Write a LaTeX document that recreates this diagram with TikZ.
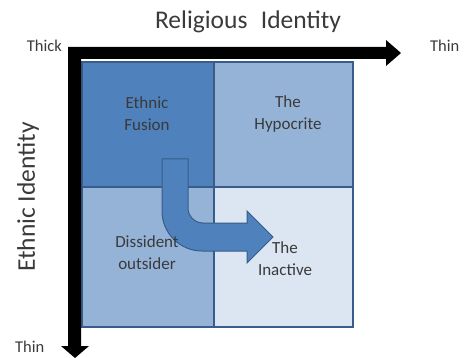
\documentclass[tikz,border=0pt]{standalone}
\usepackage{fontspec}
\setmainfont{Carlito}
\definecolor{cdark}{HTML}{4F81BD}
\definecolor{cmid}{HTML}{95B3D7}
\definecolor{clight}{HTML}{DCE6F2}
\definecolor{cline}{HTML}{385D8A}
\definecolor{ctext}{HTML}{3A3A3A}
\tikzset{
  cell/.style={draw=cline, line width=1.6pt},
  celltext/.style={text=ctext, align=center, font=\fontsize{17}{22}\selectfont, inner sep=0pt},
  axislabel/.style={text=ctext, font=\fontsize{16.5}{18}\selectfont, inner sep=0pt},
  title/.style={text=ctext, font=\fontsize{25.5}{28}\selectfont, inner sep=0pt},
  axisarrow/.style={fill=black, draw=none},
  bentarrow/.style={fill=cdark, draw=cline, line width=1pt, line join=miter}
}
\begin{document}
\begin{tikzpicture}[x=1pt,y=-1pt]
\useasboundingbox (0,0) rectangle (465,358);
% cells
\filldraw[cell, fill=cdark]  (82,62)  rectangle (214,187);
\filldraw[cell, fill=cmid]   (214,62) rectangle (353,187);
\filldraw[cell, fill=cmid]   (82,187) rectangle (214,327);
\filldraw[cell, fill=clight] (214,187) rectangle (353,327);
% axes
\coordinate (o) at (68,47);
\coordinate (xe) at (401,53);
\coordinate (ye) at (75,358);
\fill[axisarrow] (o) -- (386,47) -- (386,40) -- (xe) -- (386,66) -- (386,59) -- (81,59) -- (81,346) -- (89,346) -- (ye) -- (61,346) -- (68,346) -- cycle;
% bent arrow
\filldraw[bentarrow] (162,159) -- (188,159) -- (188,208)
  .. controls (188,216.3) and (194.7,223) .. (203,223)
  -- (247,223) -- (247,211) -- (273,237) -- (247,263) -- (247,251)
  -- (202,251) .. controls (179.9,251) and (162,233.1) .. (162,211) -- cycle;
% texts
\node[celltext] (ef) at (147,114) {Ethnic\\Fusion};
\node[celltext] (hy) at (288,114) {The\\Hypocrite};
\node[celltext] (ds) at (147,253) {Dissident\\outsider};
\node[celltext] (in) at (285,259) {The\\Inactive};
\node[title] (rt) at (248,22) {Religious\hspace{0.3em} Identity};
\node[title, rotate=90] (et) at (28,197) {Ethnic Identity};
\node[axislabel, anchor=east] (thick) at (62,46) {Thick};
\node[axislabel, anchor=west] (thinx) at (430,46) {Thin};
\node[axislabel, anchor=west] (thiny) at (15,347) {Thin};
\end{tikzpicture}
\end{document}
